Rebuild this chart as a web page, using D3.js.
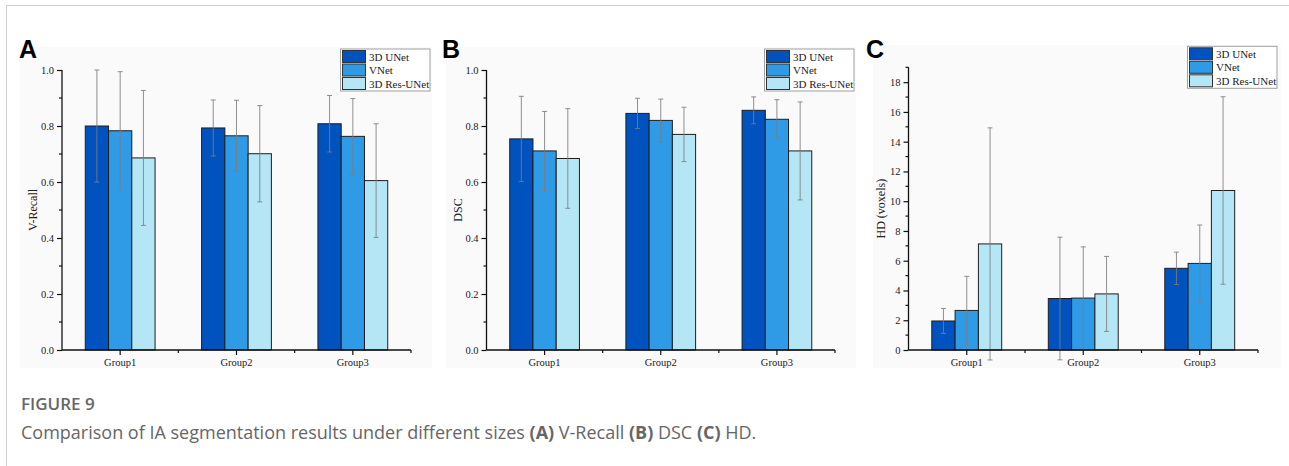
<!DOCTYPE html>
<meta charset="UTF-8">
<style>
  body { margin: 0; background: #fff; }
  svg { display: block; }
  .tick-label, .grp, .ytitle, .leg { font-family: "Liberation Serif", "DejaVu Serif", serif; fill: #222; }
  .letter { font-family: "Liberation Sans", Arial, sans-serif; font-weight: bold; font-size: 25px; fill: #000; }
  .cap { font-family: "Open Sans", Lato, sans-serif; fill: #666; }
</style>
<svg width="1289" height="466"></svg>
<script src="https://d3js.org/d3.v7.min.js"></script>
<script>
  const groups = ['Group1', 'Group2', 'Group3'];
  const models = ['3D UNet', 'VNet', '3D Res-UNet'];
  const colors = ['#0052be', '#2f9ae6', '#b4e6f5'];

  // mean and sd per group (rows) and model (columns)
  const recallMean = [[0.800, 0.783, 0.686], [0.793, 0.765, 0.701], [0.808, 0.763, 0.605]];
  const recallSd   = [[0.200, 0.211, 0.241], [0.100, 0.127, 0.172], [0.101, 0.135, 0.203]];
  const dscMean    = [[0.754, 0.711, 0.684], [0.845, 0.820, 0.770], [0.856, 0.824, 0.711]];
  const dscSd      = [[0.152, 0.141, 0.178], [0.054, 0.076, 0.097], [0.048, 0.070, 0.175]];
  const hdMean     = [[1.95, 2.66, 7.13], [3.46, 3.49, 3.77], [5.49, 5.82, 10.72]];
  const hdSd       = [[0.84, 2.29, 7.80], [4.12, 3.44, 2.52], [1.09, 2.58, 6.30]];

  const unitTicks = [0, 0.2, 0.4, 0.6, 0.8, 1.0];
  const unitMinor = [0.1, 0.3, 0.5, 0.7, 0.9];
  const hdTicks = [0, 2, 4, 6, 8, 10, 12, 14, 16, 18];
  const hdMinor = [1, 3, 5, 7, 9, 11, 13, 15, 17, 19];

  const svg = d3.select('svg');

  // page frame
  svg.append('line').attr('x1', 6).attr('x2', 1289).attr('y1', 5.5).attr('y2', 5.5)
    .attr('stroke', '#d0d0d0');
  svg.append('line').attr('x1', 6.5).attr('x2', 6.5).attr('y1', 5).attr('y2', 466)
    .attr('stroke', '#d0d0d0');

  const panels = [
    { letter: 'A', lx: 19, title: 'V-Recall', tx: 33, x0: 62, x1: 411, top: 70, domain: [0, 1],
      ticks: unitTicks, minor: unitMinor, fmt: d3.format('.1f'), mean: recallMean, sd: recallSd, bg: [20, 47, 432, 368] },
    { letter: 'B', lx: 442, title: 'DSC', tx: 458, x0: 486.5, x1: 835, top: 70, domain: [0, 1],
      ticks: unitTicks, minor: unitMinor, fmt: d3.format('.1f'), mean: dscMean, sd: dscSd, bg: [446, 47, 856, 368] },
    { letter: 'C', lx: 866, title: 'HD (voxels)', tx: 881, x0: 908.5, x1: 1258, top: 67.3, domain: [0, 19],
      ticks: hdTicks, minor: hdMinor, fmt: d3.format('d'), mean: hdMean, sd: hdSd, bg: [873, 45, 1281, 368] },
  ];

  const Y0 = 350;

  panels.forEach(p => {
    const g = svg.append('g');

    g.append('rect')
      .attr('x', p.bg[0]).attr('y', p.bg[1])
      .attr('width', p.bg[2] - p.bg[0]).attr('height', p.bg[3] - p.bg[1])
      .attr('fill', '#fafafa');

    g.append('text').attr('class', 'letter').attr('x', p.lx).attr('y', 57.5).text(p.letter);

    const x = d3.scaleBand().domain(groups).range([p.x0, p.x1]);
    const inner = d3.scaleBand().domain(models)
      .range([x.bandwidth() * 0.2, x.bandwidth() * 0.8]);
    const y = d3.scaleLinear().domain(p.domain).range([Y0, p.top]);

    // bars
    const rows = groups.map((grp, gi) => models.map((m, mi) => ({
      grp, m, mi, v: p.mean[gi][mi], s: p.sd[gi][mi],
    }))).flat();

    g.selectAll('rect.bar').data(rows).enter().append('rect').attr('class', 'bar')
      .attr('x', d => x(d.grp) + inner(d.m))
      .attr('width', inner.bandwidth())
      .attr('y', d => y(d.v))
      .attr('height', d => Y0 - y(d.v))
      .attr('fill', d => colors[d.mi])
      .attr('stroke', '#1e1e1e').attr('stroke-width', 1);

    // error bars
    const eb = g.selectAll('g.err').data(rows).enter().append('g').attr('class', 'err')
      .attr('transform', d => `translate(${x(d.grp) + inner(d.m) + inner.bandwidth() / 2},0)`)
      .attr('stroke', '#7d7d7d').attr('stroke-width', 1).attr('stroke-opacity', 0.85);
    eb.append('line').attr('y1', d => y(d.v - d.s)).attr('y2', d => y(d.v + d.s));
    eb.append('line').attr('x1', -2.5).attr('x2', 2.5)
      .attr('y1', d => y(d.v + d.s)).attr('y2', d => y(d.v + d.s));
    eb.append('line').attr('x1', -2.5).attr('x2', 2.5)
      .attr('y1', d => y(d.v - d.s)).attr('y2', d => y(d.v - d.s));

    // y axis
    const yAxis = g.append('g').attr('transform', `translate(${p.x0},0)`)
      .call(d3.axisLeft(y).tickValues(p.ticks).tickFormat(p.fmt).tickSize(5).tickPadding(3));
    yAxis.select('.domain').attr('stroke', '#111').attr('stroke-width', 1.3)
      .attr('d', `M0,${Y0}V${p.top}`);
    yAxis.selectAll('.tick line').attr('stroke', '#111').attr('stroke-width', 1.2);
    yAxis.selectAll('.tick text').attr('class', 'tick-label').attr('font-size', 10.5)
      .attr('fill', '#222');
    yAxis.selectAll('line.minor').data(p.minor).enter().append('line').attr('class', 'minor')
      .attr('x1', -3).attr('x2', 0).attr('y1', d => y(d)).attr('y2', d => y(d))
      .attr('stroke', '#111').attr('stroke-width', 1.2);

    // x axis
    const xAxis = g.append('g').attr('transform', `translate(0,${Y0})`)
      .call(d3.axisBottom(x).tickSize(5).tickPadding(4));
    xAxis.select('.domain').attr('stroke', '#111').attr('stroke-width', 1.3)
      .attr('d', `M${p.x0},0H${p.x1}`);
    xAxis.selectAll('.tick line').attr('stroke', '#111').attr('stroke-width', 1.2);
    xAxis.selectAll('.tick text').attr('class', 'grp').attr('font-size', 10.5)
      .attr('fill', '#333');
    const bounds = groups.slice(1).map(d => x(d)).concat([p.x1]);
    xAxis.selectAll('line.minor').data(bounds).enter().append('line').attr('class', 'minor')
      .attr('x1', d => d).attr('x2', d => d).attr('y1', 0).attr('y2', 3)
      .attr('stroke', '#111').attr('stroke-width', 1.2);

    // y title
    g.append('text').attr('class', 'ytitle').attr('font-size', 12)
      .attr('transform', `translate(${p.tx + 4},${(Y0 + p.top) / 2}) rotate(-90)`)
      .attr('text-anchor', 'middle').text(p.title);

    // legend
    const lw = 89.5, lh = 42;
    const lx = p.x1 + 19 - lw, ly = p.top - 21;
    const leg = g.append('g').attr('transform', `translate(${lx},${ly})`);
    leg.append('rect').attr('width', lw).attr('height', lh)
      .attr('fill', '#fff').attr('stroke', '#a0a0a0').attr('stroke-width', 1);
    models.forEach((m, i) => {
      leg.append('rect').attr('x', 2).attr('y', 1.5 + i * 13.5).attr('width', 23).attr('height', 12)
        .attr('fill', colors[i]).attr('stroke', '#333').attr('stroke-width', 1);
      leg.append('text').attr('class', 'leg').attr('font-size', 11)
        .attr('x', 28.5).attr('y', 11.5 + i * 13.5).text(m);
    });
  });

  // caption
  svg.append('text').attr('class', 'cap').attr('x', 21).attr('y', 410)
    .attr('font-size', 17).attr('font-weight', 600).attr('fill', '#5a5a5a').text('FIGURE 9');
  const cap = svg.append('text').attr('class', 'cap').attr('x', 21).attr('y', 439)
    .attr('font-size', 18).attr('fill', '#6a6a6a');
  const parts = [
    ['Comparison of IA segmentation results under different sizes ', false],
    ['(A)', true], [' V-Recall ', false], ['(B)', true], [' DSC ', false],
    ['(C)', true], [' HD.', false],
  ];
  parts.forEach(([t, b]) => {
    cap.append('tspan').attr('font-weight', b ? 'bold' : 'normal').text(t);
  });
</script>
